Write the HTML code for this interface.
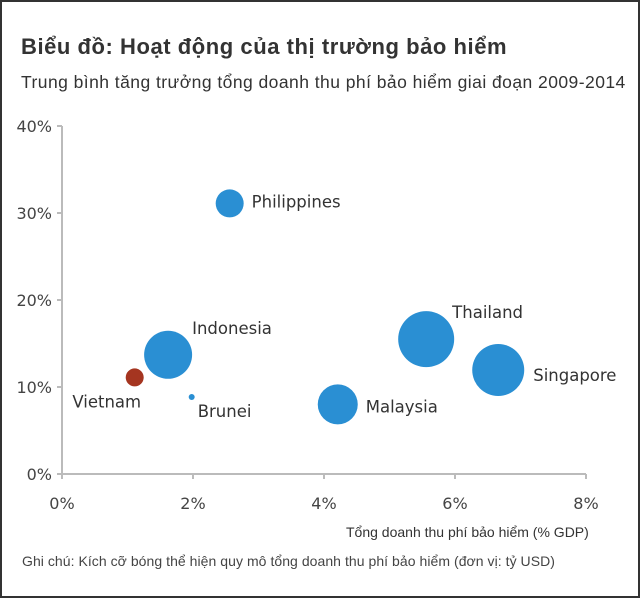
<!DOCTYPE html>
<html><head><meta charset="utf-8"><style>
html,body{margin:0;padding:0;background:#fff;}
#wrap{position:relative;width:636px;height:594px;border:2px solid #333;overflow:hidden;background:#fff;}
.t{position:absolute;font-family:"Liberation Sans",sans-serif;white-space:nowrap;}
</style></head><body>
<div id="wrap">
<div class="t" style="left:19px;top:32px;font-size:22px;font-weight:bold;color:#333;letter-spacing:0.55px;">Biểu đồ: Hoạt động của thị trường bảo hiểm</div>
<div class="t" style="left:19px;top:70px;font-size:17.5px;color:#333;letter-spacing:0.45px;">Trung bình tăng trưởng tổng doanh thu phí bảo hiểm giai đoạn 2009-2014</div>
<div class="t" style="left:344px;top:522px;font-size:14px;color:#333;">Tổng doanh thu phí bảo hiểm (% GDP)</div>
<div class="t" style="left:20px;top:551px;font-size:14px;color:#444;letter-spacing:0.05px;">Ghi chú: Kích cỡ bóng thể hiện quy mô tổng doanh thu phí bảo hiểm (đơn vị: tỷ USD)</div>
<svg id="plot" width="636" height="594" style="position:absolute;left:0;top:0"></svg>
</div>
<script>
const countries=["Philippines","Indonesia","Vietnam","Brunei","Malaysia","Thailand","Singapore"];
const penetration=[2.56,1.62,1.11,1.98,4.21,5.56,6.66];
const growth=[31.1,13.7,11.1,8.85,8.0,15.5,11.95];
const premiumSize=[1.96,5.76,0.81,0.09,4.0,7.84,6.76];
const xTicks=[0,2,4,6,8];
const yTicks=[0,10,20,30,40];
const NS="http://www.w3.org/2000/svg";
const svg=document.getElementById('plot');
const X0=60,X1=584,Y0=472,Y1=124;
const xs=v=>X0+(v/8)*(X1-X0);
const ys=v=>Y0-(v/40)*(Y0-Y1);
const rs=s=>10*Math.sqrt(s);
function mk(tag,attrs){const e=document.createElementNS(NS,tag);for(const k in attrs)e.setAttribute(k,attrs[k]);svg.appendChild(e);return e;}
let ax=mk('line',{x1:X0,y1:Y0,x2:X1,y2:Y0,stroke:'#bbb','stroke-width':2});


let ay=mk('line',{x1:X0,y1:Y1,x2:X0,y2:Y0,stroke:'#bbb','stroke-width':2});


xTicks.forEach(v=>{
 mk('line',{x1:xs(v),y1:Y0,x2:xs(v),y2:Y0+5,stroke:'#bbb','stroke-width':2});
 const t=mk('text',{x:xs(v),y:Y0+35,'text-anchor':'middle','font-family':'DejaVu Sans, sans-serif','font-size':16,fill:'#444'});
 t.textContent=v+'%';
 
 
});
yTicks.forEach(v=>{
 mk('line',{x1:X0-5,y1:ys(v),x2:X0,y2:ys(v),stroke:'#bbb','stroke-width':2});
 const t=mk('text',{x:X0-10,y:ys(v)+6,'text-anchor':'end','font-family':'DejaVu Sans, sans-serif','font-size':16,fill:'#444'});
 t.textContent=v+'%';
 
 
});
const labelOff={Philippines:[22,-2,'start'],Indonesia:[24,-27,'start'],Vietnam:[-28,24,'middle'],Brunei:[6,14,'start'],Malaysia:[28,2,'start'],Thailand:[26,-27,'start'],Singapore:[35,5,'start']};
countries.forEach((c,i)=>{
 const cx=xs(penetration[i]),cy=ys(growth[i]);
 const b=mk('circle',{cx:cx,cy:cy,r:rs(premiumSize[i]),fill:c==='Vietnam'?'#a53520':'#2a8fd3'});
 
 
 const o=labelOff[c];
 const t=mk('text',{x:cx+o[0],y:cy+o[1]+6,'text-anchor':o[2],'font-family':'DejaVu Sans, sans-serif','font-size':16.5,fill:'#333'});
 t.textContent=c;
 
 
});
</script>
</body></html>
